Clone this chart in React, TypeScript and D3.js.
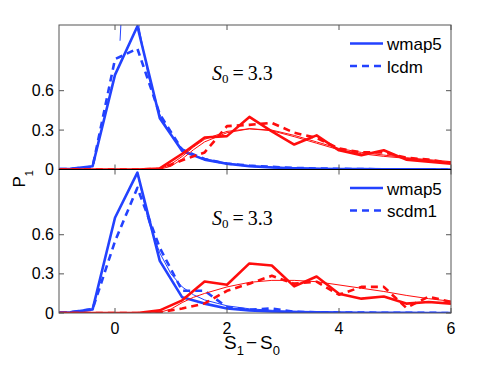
import React from 'react';
import * as d3 from 'd3';

// sample positions of the histogram curves
const xs = [-1.2, -0.8, -0.4, 0, 0.4, 0.8, 1.2, 1.6, 2.0, 2.4, 2.8, 3.2, 3.6, 4.0, 4.4, 4.8, 5.2, 5.6, 6.0];

// top panel (wmap5 vs lcdm)
const topBlueWmap = [0, 0.005, 0.025, 0.72, 1.09, 0.39, 0.14, 0.075, 0.044, 0.025, 0.015, 0.01, 0.006, 0.004, 0.003, 0.002, 0.001, 0.001, 0];
const topBlueLcdm = [0, 0.005, 0.02, 0.84, 0.92, 0.42, 0.15, 0.08, 0.045, 0.03, 0.02, 0.012, 0.008, 0.005, 0.003, 0.002, 0.001, 0.001, 0];
const topRedWmap = [0, 0, 0, 0, 0, 0.008, 0.12, 0.244, 0.254, 0.40, 0.29, 0.19, 0.26, 0.146, 0.108, 0.146, 0.075, 0.06, 0.044];
const topRedLcdm = [0, 0, 0, 0, 0, 0.005, 0.07, 0.13, 0.33, 0.34, 0.355, 0.28, 0.24, 0.16, 0.13, 0.13, 0.09, 0.075, 0.05];

// bottom panel (wmap5 vs scdm1)
const botBlueWmap = [0, 0.005, 0.028, 0.73, 1.076, 0.40, 0.12, 0.072, 0.035, 0.02, 0.012, 0.008, 0.005, 0.003, 0.002, 0.001, 0.001, 0, 0];
const botBlueScdm = [0, 0.005, 0.03, 0.55, 0.96, 0.50, 0.17, 0.17, 0.045, 0.025, 0.035, 0.01, 0.006, 0.004, 0.003, 0.002, 0.001, 0.001, 0];
const botRedWmap = [0, 0, 0, 0, 0, 0.02, 0.097, 0.242, 0.217, 0.38, 0.364, 0.204, 0.28, 0.148, 0.11, 0.127, 0.072, 0.084, 0.072];
const botRedScdm = [0, 0, 0, 0, 0, 0.005, 0.035, 0.073, 0.17, 0.225, 0.285, 0.225, 0.24, 0.14, 0.2, 0.2, 0.04, 0.125, 0.085];

// thin fit curves
const topBlueFitX = [0.09, 0.13, 0.41, 0.43, 0.6, 0.8, 1.0, 1.2, 1.4, 1.6, 2.0, 2.4, 3.0, 4.0, 5.0, 6.0];
const topBlueFitY = [0.98, 1.3, 1.3, 1.08, 0.7, 0.42, 0.26, 0.16, 0.11, 0.08, 0.048, 0.03, 0.015, 0.005, 0.002, 0];
const botBlueFitX = [0.4, 0.6, 0.8, 1.0, 1.2, 1.4, 1.6, 2.0, 2.4, 3.0, 4.0, 5.0, 6.0];
const botBlueFitY = [1.07, 0.7, 0.46, 0.3, 0.2, 0.14, 0.1, 0.055, 0.032, 0.015, 0.005, 0.002, 0];
const redFitX = [0.6, 0.8, 1.0, 1.2, 1.4, 1.6, 2.0, 2.4, 2.8, 3.2, 3.6, 4.0, 4.4, 4.8, 5.2, 5.6, 6.0];
const topRedFitA = [0, 0.005, 0.04, 0.1, 0.17, 0.23, 0.29, 0.31, 0.295, 0.25, 0.2, 0.15, 0.12, 0.1, 0.085, 0.07, 0.055];
const topRedFitB = [0, 0.002, 0.025, 0.08, 0.15, 0.21, 0.28, 0.31, 0.3, 0.26, 0.21, 0.16, 0.13, 0.11, 0.09, 0.075, 0.06];
const botRedFit = [0, 0.005, 0.03, 0.08, 0.12, 0.15, 0.2, 0.235, 0.25, 0.25, 0.24, 0.215, 0.19, 0.165, 0.135, 0.11, 0.09];

const xTicks = [0, 2, 4, 6];
const yTicks = [0, 0.3, 0.6];
const yTickLabels = ['0', '0.3', '0.6'];
const legends = [['wmap5', 'lcdm'], ['wmap5', 'scdm1']];

const BLUE = '#2342ff';
const RED = '#ff0d0d';
const W = 491;
const H = 369;

const x = d3.scaleLinear().domain([-1, 6]).range([59, 451]);
const panels = [
  d3.scaleLinear().domain([0, 1.1]).range([169.5, 25]),
  d3.scaleLinear().domain([0, 1.1]).range([313, 169.5]),
];

const pts = (xv: number[], yv: number[]) => xv.map((v, i) => [v, yv[i]] as [number, number]);

export default function App() {
  const series = [
    {
      blue: [
        { d: pts(topBlueFitX, topBlueFitY), w: 1, dash: null },
        { d: pts(xs, topBlueLcdm), w: 2.6, dash: '7,5' },
        { d: pts(xs, topBlueWmap), w: 2.6, dash: null },
      ],
      red: [
        { d: pts(redFitX, topRedFitA), w: 1, dash: null },
        { d: pts(redFitX, topRedFitB), w: 1, dash: null },
        { d: pts(xs, topRedLcdm), w: 2.6, dash: '7,5' },
        { d: pts(xs, topRedWmap), w: 2.6, dash: null },
      ],
    },
    {
      blue: [
        { d: pts(botBlueFitX, botBlueFitY), w: 1, dash: null },
        { d: pts(xs, botBlueScdm), w: 2.6, dash: '7,5' },
        { d: pts(xs, botBlueWmap), w: 2.6, dash: null },
      ],
      red: [
        { d: pts(redFitX, botRedFit), w: 1, dash: null },
        { d: pts(xs, botRedScdm), w: 2.6, dash: '7,5' },
        { d: pts(xs, botRedWmap), w: 2.6, dash: null },
      ],
    },
  ];

  const [x0, x1] = x.range();
  const sans = 'Liberation Sans, Arial, sans-serif';
  const serif = 'Liberation Serif, Times New Roman, serif';

  return (
    <svg width={W} height={H} style={{ position: 'absolute', left: 0, top: 0, background: '#fff' }}>
      <defs>
        {panels.map((y, i) => (
          <clipPath id={`clip${i}`} key={i}>
            <rect x={x0} y={y.range()[1]} width={x1 - x0} height={y.range()[0] - y.range()[1]} />
          </clipPath>
        ))}
      </defs>
      {panels.map((y, i) => {
        const line = d3.line<[number, number]>().x(d => x(d[0])).y(d => y(d[1]));
        const [yb, yt] = y.range();
        const legY = yt + 18.5;
        return (
          <g key={i}>
            <g clipPath={`url(#clip${i})`} fill="none" strokeLinejoin="round">
              {series[i].blue.map((s, j) => (
                <path key={'b' + j} d={line(s.d) || ''} stroke={BLUE} strokeWidth={s.w} strokeDasharray={s.dash || undefined} />
              ))}
              {series[i].red.map((s, j) => (
                <path key={'r' + j} d={line(s.d) || ''} stroke={RED} strokeWidth={s.w} strokeDasharray={s.dash || undefined} />
              ))}
            </g>
            {/* frame and ticks */}
            <rect x={x0} y={yt} width={x1 - x0} height={yb - yt} fill="none" stroke="#555" strokeWidth={1} />
            {xTicks.map(t => (
              <g key={'xt' + t} stroke="#555">
                <line x1={x(t)} x2={x(t)} y1={yt} y2={yt + 5} />
                <line x1={x(t)} x2={x(t)} y1={yb} y2={yb - 5} />
              </g>
            ))}
            {yTicks.map((t, k) => (
              <g key={'yt' + t}>
                <line x1={x0} x2={x0 + 5} y1={y(t)} y2={y(t)} stroke="#555" />
                <line x1={x1} x2={x1 - 5} y1={y(t)} y2={y(t)} stroke="#555" />
                <text x={54} y={y(t) + 5.5} textAnchor="end" fontFamily={sans} fontSize={16}>{yTickLabels[k]}</text>
              </g>
            ))}
            {/* S0 annotation */}
            <text x={212} y={yt + 55} fontFamily={serif} fontSize={20}>
              <tspan fontStyle="italic">S</tspan>
              <tspan fontSize={13} dy={3}>0</tspan>
              <tspan dy={-3} dx={4}>=</tspan>
              <tspan dx={4}>3.3</tspan>
            </text>
            {/* legend */}
            {legends[i].map((lab, k) => (
              <g key={lab}>
                <line x1={350} x2={383} y1={legY + k * 22.5} y2={legY + k * 22.5} stroke={BLUE} strokeWidth={2.6}
                  strokeDasharray={k === 1 ? '7,5' : undefined} />
                <text x={387} y={legY + k * 22.5 + 6.5} fontFamily={sans} fontSize={17}>{lab}</text>
              </g>
            ))}
          </g>
        );
      })}
      <line x1={x0} x2={x1} y1={169.5} y2={169.5} stroke="#000" />
      {xTicks.map(t => (
        <text key={'xl' + t} x={x(t)} y={333.5} textAnchor="middle" fontFamily={sans} fontSize={16}>{t}</text>
      ))}
      <text x={224} y={348.5} fontFamily={sans} fontSize={19}>
        S<tspan fontSize={13} dy={6}>1</tspan>
        <tspan dy={-6} dx={2}>−</tspan>
        <tspan dx={3}>S</tspan>
        <tspan fontSize={13} dy={6}>0</tspan>
      </text>
      <text transform="translate(25,187.5) rotate(-90)" fontFamily={sans} fontSize={17}>
        P<tspan fontSize={11} dy={8}>1</tspan>
      </text>
    </svg>
  );
}
